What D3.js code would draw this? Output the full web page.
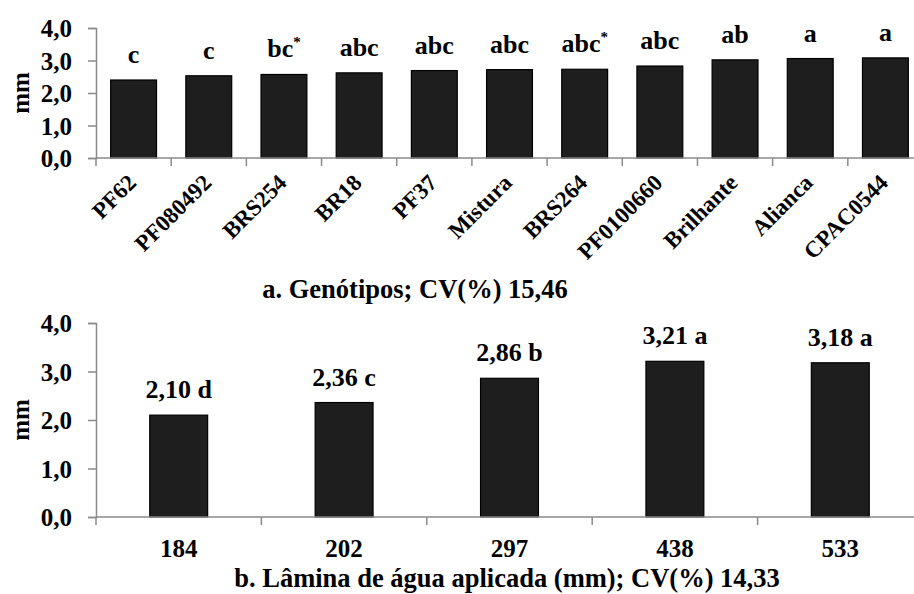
<!DOCTYPE html>
<html>
<head>
<meta charset="utf-8">
<script src="https://cdn.jsdelivr.net/npm/d3@7"></script>
<style>
  body { margin: 0; background: #fff; }
  svg text { font-family: 'Liberation Serif', 'Times New Roman', serif; font-weight: bold; fill: #000; }
</style>
</head>
<body>
<svg id="chart" width="914" height="594"></svg>
<script>
// Panel a: genotypes
const genotypes = ['PF62', 'PF080492', 'BRS254', 'BR18', 'PF37', 'Mistura', 'BRS264', 'PF0100660', 'Brilhante', 'Alianca', 'CPAC0544']
const genotypeValues = [2.40, 2.53, 2.57, 2.62, 2.69, 2.72, 2.73, 2.83, 3.02, 3.06, 3.08]
const genotypeLetters = ['c', 'c', 'bc*', 'abc', 'abc', 'abc', 'abc*', 'abc', 'ab', 'a', 'a']

// Panel b: applied water depth
const waterDepths = ['184', '202', '297', '438', '533']
const waterValues = [2.10, 2.36, 2.86, 3.21, 3.18]
const waterLetters = ['d', 'c', 'b', 'a', 'a']

const yTicks = [0, 1, 2, 3, 4]
const titleA = 'a. Genótipos; CV(%) 15,46'
const titleB = 'b. Lâmina de água aplicada (mm); CV(%) 14,33'

const svg = d3.select('#chart')
const comma = d => d3.format('.1f')(d).replace('.', ',')
const axisColor = '#8a8a8a'
const barFill = '#1e1e1e'

function drawPanel (opts) {
  const { cats, values, top, bottom, pad, yLabelY } = opts
  const left = 96
  const right = 923

  const x = d3.scaleBand()
    .domain(cats)
    .range([left, right])
    .paddingInner(pad)
    .paddingOuter(pad / 2)

  const y = d3.scaleLinear()
    .domain([0, 4])
    .range([bottom, top])

  const g = svg.append('g')

  // bars
  g.selectAll('rect.bar')
    .data(values)
    .enter()
    .append('rect')
    .attr('class', 'bar')
    .attr('x', (d, i) => x(cats[i]))
    .attr('y', d => y(d))
    .attr('width', x.bandwidth())
    .attr('height', d => y(0) - y(d))
    .attr('fill', barFill)
    .attr('stroke', '#000')
    .attr('stroke-width', 1.2)

  // y axis
  const yAxis = g.append('g')
    .attr('transform', `translate(${left},0)`)
    .call(d3.axisLeft(y).tickValues(yTicks).tickFormat(comma).tickSize(8).tickPadding(16))
  yAxis.select('.domain').attr('stroke', axisColor).attr('stroke-width', 1.5)
  yAxis.selectAll('.tick line').attr('stroke', axisColor).attr('stroke-width', 1.5)
  yAxis.selectAll('.tick text')
    .attr('font-size', 25)
    .attr('font-family', null)
    .attr('dy', '0.35em')

  // x axis line, ticks on band boundaries
  g.append('line')
    .attr('x1', left).attr('x2', right)
    .attr('y1', y(0)).attr('y2', y(0))
    .attr('stroke', axisColor).attr('stroke-width', 1.5)
  g.selectAll('line.xtick')
    .data(d3.range(cats.length + 1))
    .enter()
    .append('line')
    .attr('class', 'xtick')
    .attr('x1', i => left + i * x.step())
    .attr('x2', i => left + i * x.step())
    .attr('y1', y(0))
    .attr('y2', y(0) + 8)
    .attr('stroke', axisColor).attr('stroke-width', 1.5)

  // y label
  g.append('text')
    .attr('transform', `translate(29,${yLabelY}) rotate(-90)`)
    .attr('text-anchor', 'middle')
    .attr('font-size', 25)
    .text('mm')

  return { x, y, g }
}

// ---- panel a ----
const a = drawPanel({ cats: genotypes, values: genotypeValues, top: 28, bottom: 158, pad: 0.39, yLabelY: 93 })

a.g.selectAll('text.letter')
  .data(genotypeLetters)
  .enter()
  .append('text')
  .attr('class', 'letter')
  .attr('text-anchor', 'middle')
  .attr('font-size', 26)
  .attr('x', (d, i) => a.x(genotypes[i]) + a.x.bandwidth() / 2)
  .attr('y', (d, i) => a.y(genotypeValues[i]) - 17)
  .each(function (d) {
    const t = d3.select(this)
    const [main, sup] = d.split('*')
    t.append('tspan').text(main)
    if (sup !== undefined) {
      t.append('tspan').attr('font-size', 15).attr('dy', -10).text('*')
    }
  })

a.g.selectAll('text.cat')
  .data(genotypes)
  .enter()
  .append('text')
  .attr('class', 'cat')
  .attr('text-anchor', 'end')
  .attr('font-size', 23)
  .attr('transform', d => `translate(${a.x(d) + a.x.bandwidth() / 2 + 4},184) rotate(-45)`)
  .text(d => d)

a.g.append('text')
  .attr('text-anchor', 'middle')
  .attr('font-size', 26.5)
  .attr('x', 415)
  .attr('y', 298)
  .text(titleA)

// ---- panel b ----
const b = drawPanel({ cats: waterDepths, values: waterValues, top: 323, bottom: 517, pad: 0.65, yLabelY: 420 })

b.g.selectAll('text.value')
  .data(waterValues)
  .enter()
  .append('text')
  .attr('class', 'value')
  .attr('text-anchor', 'middle')
  .attr('font-size', 26)
  .attr('x', (d, i) => b.x(waterDepths[i]) + b.x.bandwidth() / 2)
  .attr('y', d => b.y(d) - 17)
  .text((d, i) => `${d3.format('.2f')(d).replace('.', ',')} ${waterLetters[i]}`)

b.g.selectAll('text.cat')
  .data(waterDepths)
  .enter()
  .append('text')
  .attr('class', 'cat')
  .attr('text-anchor', 'middle')
  .attr('font-size', 25)
  .attr('x', d => b.x(d) + b.x.bandwidth() / 2)
  .attr('y', 557)
  .text(d => d)

b.g.append('text')
  .attr('text-anchor', 'middle')
  .attr('font-size', 26.5)
  .attr('x', 507)
  .attr('y', 587)
  .text(titleB)
</script>
</body>
</html>
